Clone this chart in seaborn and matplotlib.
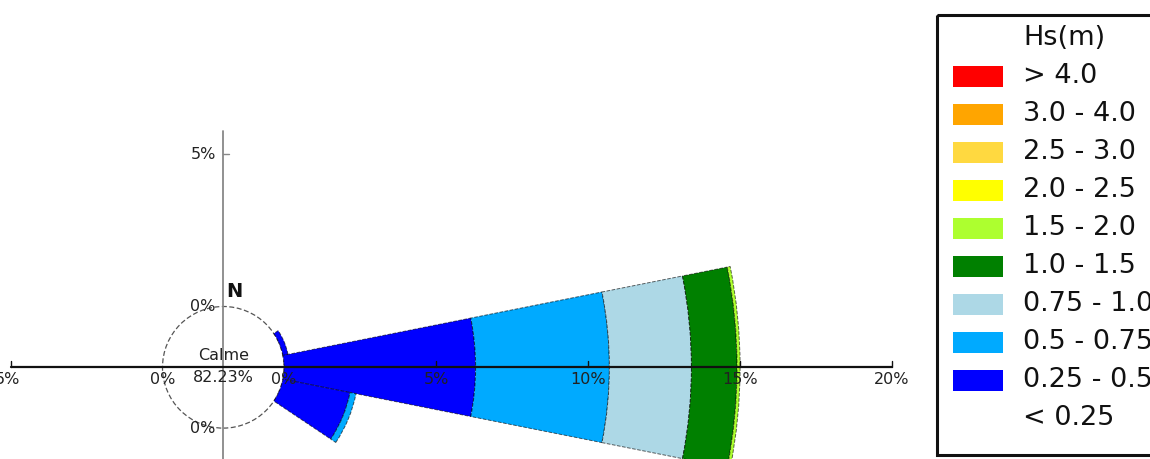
import numpy as np
import matplotlib
matplotlib.use("Agg")
import matplotlib.pyplot as plt
from matplotlib.patches import Wedge, Circle, Rectangle
import seaborn as sns

# Wave height classes (lowest to highest) and their colours
hs_labels = ["< 0.25", "0.25 - 0.5", "0.5 - 0.75", "0.75 - 1.0", "1.0 - 1.5",
             "1.5 - 2.0", "2.0 - 2.5", "2.5 - 3.0", "3.0 - 4.0", "> 4.0"]
hs_colors = ["#FFFFFF", "#0000FF", "#00AAFF", "#ADD8E6", "#008000",
             "#ADFF2F", "#FFFF00", "#FFD940", "#FFA500", "#FF0000"]

# Direction sectors (bearing in degrees, clockwise from North)
sector_names = ["ENE", "E", "ESE"]
sector_bearings = [67.5, 90.0, 112.5]
sector_width = 22.5

# Frequency (%) of each height class per direction
freq_ene = [0.0, 0.17, 0.0, 0.0, 0.0, 0.0, 0.0, 0.0, 0.0, 0.0]
freq_e = [0.0, 6.3, 4.4, 2.7, 1.5, 0.1, 0.0, 0.0, 0.0, 0.0]
freq_ese = [0.0, 2.25, 0.2, 0.0, 0.0, 0.0, 0.0, 0.0, 0.0, 0.0]

calm_pct = 82.23
radial_ticks = [5, 10, 15, 20]

sns.set_theme(style="white")
plt.rcParams["font.family"] = ["DejaVu Sans"]

W, H = 1150, 459
fig = plt.figure(figsize=(W / 100, H / 100), dpi=100)

# Plot frame: one unit = 1 %, calm circle radius of 2 units
px = 30.4
cx, cy = 223.3, 367.3
R0 = 2.0
ax = fig.add_axes([0, 0, 1, 1])
ax.set_xlim(-cx / px, (W - cx) / px)
ax.set_ylim(-(H - cy) / px, cy / px)
ax.set_axis_off()

txt_col = "#222222"
fs_tick = 11.5

# Stacked sectors
for bearing, freqs in zip(sector_bearings, [freq_ene, freq_e, freq_ese]):
    t1 = 90 - bearing - sector_width / 2
    t2 = 90 - bearing + sector_width / 2
    inner = R0
    for f, c in zip(freqs[1:], hs_colors[1:]):
        if f <= 0:
            continue
        outer = inner + f
        ax.add_patch(Wedge((0, 0), outer, t1, t2, width=f, facecolor=c,
                           edgecolor=(0, 0, 0, 0.6), lw=0.7, linestyle="--",
                           zorder=2))
        inner = outer

# Calm circle
ax.add_patch(Circle((0, 0), R0, fill=False, edgecolor="#555555", lw=0.9,
                    linestyle=(0, (4, 2)), zorder=1))
ax.text(0, 0.38, "Calme", ha="center", va="center", fontsize=fs_tick, color=txt_col, zorder=5)
ax.text(0, -0.33, f"{calm_pct:.2f}%", ha="center", va="center", fontsize=fs_tick,
        color=txt_col, zorder=5)

# Axes lines
ax.plot([-(R0 + 5), R0 + radial_ticks[-1]], [0, 0], color="#111111", lw=1.6, zorder=4)
ax.plot([0, 0], [-4, 7.77], color="#888888", lw=1.3, zorder=1)

tick_len = 6 / px
lab_y = -(380 - cy) / px
# horizontal ticks (east side)
for t in radial_ticks:
    x = R0 + t
    ax.plot([x, x], [0, tick_len], color="#111111", lw=1.0, zorder=4)
    ax.text(x, lab_y, f"{t}%", ha="center", va="center", fontsize=fs_tick,
            color=txt_col, zorder=5)
# west side
ax.plot([-(R0 + 5)] * 2, [0, tick_len], color="#111111", lw=1.0, zorder=4)
ax.text(-(R0 + 5) - 0.1, lab_y, "5%", ha="center", va="center", fontsize=fs_tick,
        color=txt_col, zorder=5)
for x in (-R0, R0):
    ax.text(x, lab_y, "0%", ha="center", va="center", fontsize=fs_tick, color=txt_col, zorder=5)

# vertical ticks
ax.plot([0, tick_len], [R0 + 5] * 2, color="#888888", lw=1.0, zorder=1)
for y, lab in [(R0 + 5, "5%"), (R0, "0%"), (-R0, "0%")]:
    ax.text(-0.25, y, lab, ha="right", va="center", fontsize=fs_tick, color=txt_col, zorder=5)

ax.text(0.35, 2.48, "N", ha="center", va="center", fontsize=14, fontweight="bold",
        color="#111111", zorder=5)

# Legend panel (pixel coordinates)
lax = fig.add_axes([0, 0, 1, 1], facecolor="none")
lax.set_xlim(0, W)
lax.set_ylim(H, 0)
lax.set_axis_off()
lax.add_patch(Rectangle((937, 15), 260, 440, fill=False, edgecolor="#111111", lw=2.2))
row0, step = 38, 38.0
fs_leg = 19.5
lax.text(1023, row0, "Hs(m)", ha="left", va="center", fontsize=fs_leg, color="#111111")
for i, (lab, col) in enumerate(zip(hs_labels[::-1], hs_colors[::-1])):
    y = row0 + step * (i + 1)
    if col != "#FFFFFF":
        lax.add_patch(Rectangle((953, y - 10.5), 50, 21, facecolor=col, edgecolor="none"))
    lax.text(1023, y, lab, ha="left", va="center", fontsize=fs_leg, color="#111111")

fig.savefig("out.png", dpi=100)
